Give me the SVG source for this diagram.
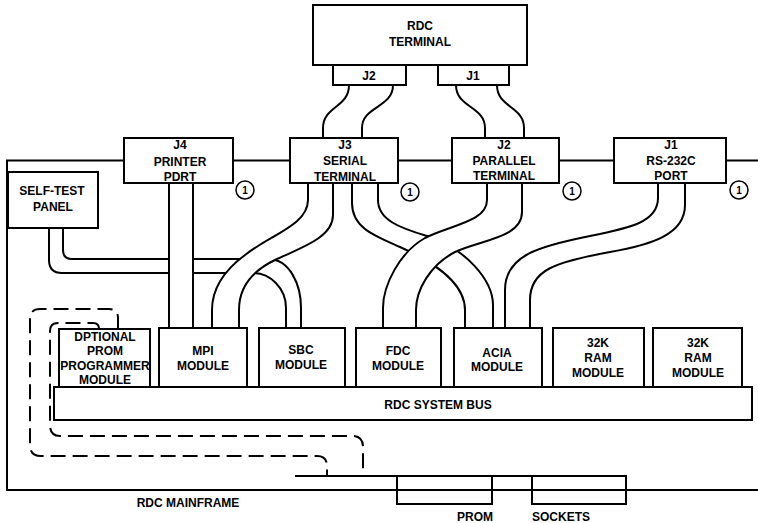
<svg xmlns="http://www.w3.org/2000/svg" width="758" height="523" viewBox="0 0 758 523">
<style>
.box{fill:#fff;stroke:#000;stroke-width:2}
.open{fill:none;stroke:#000;stroke-width:2}
.cable{fill:#fff;stroke:#000;stroke-width:2;stroke-linejoin:round}
.line{fill:none;stroke:#000;stroke-width:2}
.dash{fill:none;stroke:#000;stroke-width:2;stroke-dasharray:15 7}
.ring{fill:#fff;stroke:#000;stroke-width:1.5}
text{font-family:"Liberation Sans",Arial,Helvetica,sans-serif;font-weight:bold;font-size:12px;text-anchor:middle;fill:#000}
text.num{font-size:10px}
</style>
<rect width="758" height="523" fill="#fff"/>

<g id="mainframe">
<path class="line" d="M758,160.5 L7,160.5 L7,490 L758,490"/>
<path class="line" d="M295,476 L626,476"/>
<text x="188" y="507">RDC MAINFRAME</text>
</g>

<g id="connectors">
<path class="cable" d="M49,228 L49,260 Q49,273 62,273 L253,273 C270,273 286,288 286,308 L286,328 L301,328 L301,308 C301,285 290,259 268,259 L72,259 Q63,259 63,250 L63,228 Z"/>
<path class="cable" d="M169,183 L169,328 L193,328 L193,183 Z"/>
<path class="cable" d="M308,183 L308,200 C308,225 270,235 245,255 C222,272 212,290 212,310 L212,328 L239,328 L239,310 C239,290 250,272 275,260 C300,248 333,238 333,215 L333,183 Z"/>
<path class="cable" d="M352,183 L352,203 C352,228 375,236 400,247 C440,265 465,285 465,310 L465,328 L493,328 L493,305 C493,280 465,248 427,236 C400,228 378,220 378,200 L378,183 Z"/>
<path class="cable" d="M487,183 L487,200 C487,222 450,225 425,238 C400,252 383,285 383,308 L383,328 L416,328 L416,310 C416,290 430,265 455,252 C480,240 522,238 522,212 L522,183 Z"/>
<path class="cable" d="M658,182 L658,198 C658,222 630,228 590,236 C540,246 505,255 505,290 L505,328 L530,328 L530,300 C530,270 555,262 610,252 C650,245 685,235 685,205 L685,182 Z"/>
<path class="cable" d="M349,85 C349,108 323,106 323,128 L323,138 L362,138 L362,128 C362,106 393,108 393,85 Z"/>
<path class="cable" d="M456,85 C456,108 485,106 485,128 L485,138 L524,138 L524,128 C524,106 497,108 497,85 Z"/>
<path class="dash" d="M118,329 L118,318 Q118,309 109,309 L40,309 Q30,309 30,319 L30,445 Q30,456 41,456 L317,456 Q327,456 327,466 L327,476"/>
<path class="dash" d="M99,329 Q99,323 93,323 L58,323 Q50,323 50,331 L50,425 Q50,436 60,436 L352,436 Q363,436 363,447 L363,476"/>
</g>

<g id="rdc-terminal">
<rect class="box" x="313" y="5" width="214" height="60"/>
<text x="420" y="30">RDC</text>
<text x="420" y="46">TERMINAL</text>
</g>
<g id="term-j2">
<rect class="box" x="333" y="65" width="73" height="20"/>
<text x="369" y="80">J2</text>
</g>
<g id="term-j1">
<rect class="box" x="438" y="65" width="71" height="20"/>
<text x="473" y="80">J1</text>
</g>

<g id="j4-printer">
<rect class="box" x="124" y="138" width="109" height="45"/>
<text x="180" y="149">J4</text>
<text x="180" y="166">PRINTER</text>
<text x="180" y="181">PDRT</text>
</g>
<g id="j3-serial">
<rect class="box" x="290" y="138" width="108" height="45"/>
<text x="345" y="149">J3</text>
<text x="345" y="165">SERIAL</text>
<text x="345" y="181">TERMINAL</text>
</g>
<g id="j2-parallel">
<rect class="box" x="452" y="138" width="107" height="45"/>
<text x="504" y="149">J2</text>
<text x="504" y="165">PARALLEL</text>
<text x="504" y="180">TERMINAL</text>
</g>
<g id="j1-rs232">
<rect class="box" x="614" y="138" width="112" height="45"/>
<text x="671" y="149">J1</text>
<text x="671" y="165">RS-232C</text>
<text x="671" y="180">PORT</text>
</g>

<g id="notes">
<circle class="ring" cx="245" cy="190" r="9"/><text class="num" x="245" y="194">1</text>
<circle class="ring" cx="410" cy="192" r="9"/><text class="num" x="410" y="196">1</text>
<circle class="ring" cx="572" cy="191" r="9"/><text class="num" x="572" y="195">1</text>
<circle class="ring" cx="739" cy="190" r="9"/><text class="num" x="739" y="194">1</text>
</g>

<g id="self-test">
<rect class="box" x="8" y="172" width="90" height="56"/>
<text x="52" y="195">SELF-TEST</text>
<text x="53" y="211">PANEL</text>
</g>

<g id="system-bus">
<rect class="box" x="54" y="387" width="698" height="33"/>
<text x="438" y="409">RDC SYSTEM BUS</text>
</g>

<g id="prom-programmer">
<rect class="box" x="59" y="329" width="91" height="58"/>
<text x="105" y="341">DPTIONAL</text>
<text x="105" y="355">PROM</text>
<text x="105" y="370">PROGRAMMER</text>
<text x="105" y="384">MODULE</text>
</g>
<g id="mpi">
<rect class="box" x="159" y="328" width="88" height="59"/>
<text x="203" y="355">MPI</text>
<text x="203" y="370">MODULE</text>
</g>
<g id="sbc">
<rect class="box" x="259" y="328" width="86" height="59"/>
<text x="301" y="354">SBC</text>
<text x="301" y="369">MODULE</text>
</g>
<g id="fdc">
<rect class="box" x="356" y="328" width="85" height="59"/>
<text x="398" y="355">FDC</text>
<text x="398" y="370">MODULE</text>
</g>
<g id="acia">
<rect class="box" x="454" y="328" width="88" height="59"/>
<text x="497" y="357">ACIA</text>
<text x="497" y="371">MODULE</text>
</g>
<g id="ram1">
<rect class="box" x="553" y="328" width="91" height="59"/>
<text x="598" y="347">32K</text>
<text x="598" y="362">RAM</text>
<text x="598" y="377">MODULE</text>
</g>
<g id="ram2">
<rect class="box" x="653" y="328" width="89" height="59"/>
<text x="698" y="347">32K</text>
<text x="698" y="362">RAM</text>
<text x="698" y="377">MODULE</text>
</g>

<g id="prom-sockets">
<rect class="open" x="397" y="476" width="95" height="28"/>
<rect class="open" x="532" y="476" width="94" height="28"/>
<text x="475" y="521">PROM</text>
<text x="561" y="521">SOCKETS</text>
</g>
</svg>
